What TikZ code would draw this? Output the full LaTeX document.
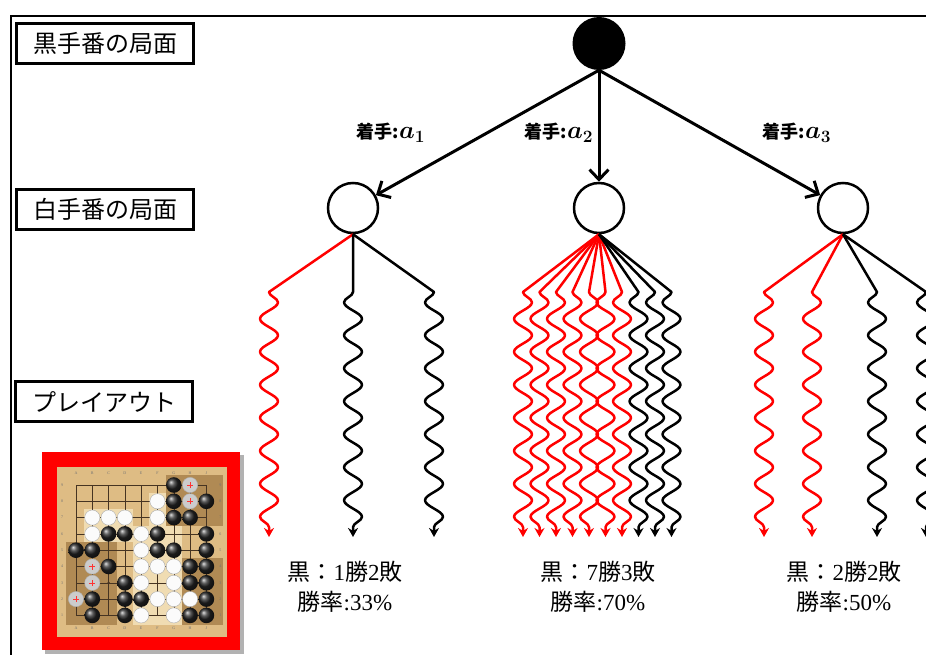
\documentclass[tikz,border=0pt]{standalone}
\usepackage{fontspec}
\setmainfont{Liberation Serif}
\newfontfamily\jp{Noto Sans CJK JP}
\usetikzlibrary{arrows.meta,decorations.pathmorphing}
\definecolor{wood}{RGB}{222,188,132}
\definecolor{woodlight}{RGB}{240,220,178}
\definecolor{wooddark}{RGB}{176,138,84}
\definecolor{gridline}{RGB}{70,52,34}
\newcommand\dg[1]{{\rmfamily #1}}
\newcommand\mv[1]{{\fontsize{24}{24}\selectfont\boldmath$a_{#1}$}}
\tikzset{
  labelbox/.style={draw, line width=3.5pt, minimum width=177pt, minimum height=40pt,
    inner sep=0pt, font=\jp\fontsize{24}{24}\selectfont},
  rootnode/.style={circle, fill=black, minimum size=53pt, inner sep=0pt},
  posnode/.style={circle, draw, line width=2.5pt, fill=white, minimum size=50pt, inner sep=0pt},
  treeedge/.style={line width=3pt, -{Straight Barb[length=10pt,width=19pt]}},
  edgelabel/.style={font=\jp\bfseries\fontsize{18}{18}\selectfont, inner sep=1pt},
  playout/.style={line width=2.5pt, line join=round, -{Stealth[length=9pt,width=10pt]},
    decoration={snake, amplitude=9pt, segment length=33pt, post length=7pt}},
  result/.style={align=center, font=\jp\fontsize{23}{30}\selectfont},
  boardlabel/.style={font=\rmfamily\fontsize{4}{4}\selectfont, text=black!55, inner sep=0pt},
  blackstone/.style={ball color=black!85},
  whitestone/.style={fill=white!97!gray, draw=gray!65, line width=0.4pt},
  deadstone/.style={fill=gray!40!white, draw=gray!60, line width=0.4pt}
}
\begin{document}
\begin{tikzpicture}[x=1pt, y=-1pt]
\useasboundingbox (0,0) rectangle (926,655);
\clip (0,0) rectangle (926,655);

% outer frame
\draw[line width=2pt] (11,670) -- (11,16) -- (940,16);

% row captions
\node[labelbox] (capB) at (105,43.5) {黒手番の局面};
\node[labelbox] (capW) at (105,209.5) {白手番の局面};
\node[labelbox] (capP) at (104,401.5) {プレイアウト};

% tree
\node[rootnode] (root) at (599,43.5) {};
\node[posnode] (w1) at (353,208) {};
\node[posnode] (w2) at (599,208) {};
\node[posnode] (w3) at (843,208) {};

\draw[treeedge] (root.south) -- (w1);
\draw[treeedge] (root.south) -- (w2);
\draw[treeedge] (root.south) -- (w3);

\node[edgelabel] (m1) at (391,133) {着手:\mv{1}};
\node[edgelabel] (m2) at (559,133) {着手:\mv{2}};
\node[edgelabel] (m3) at (797,133) {着手:\mv{3}};

% playouts
\foreach \src/\nm/\x/\col/\mir in {
  w1/pa/269/red/false, w1/pb/353/black/true, w1/pc/434/black/true,
  w2/qa/523/red/false, w2/qb/539.5/red/false, w2/qc/556/red/false,
  w2/qd/572.5/red/false, w2/qe/589/red/false, w2/qf/605.5/red/true,
  w2/qg/622/red/true, w2/qh/638.5/black/true, w2/qi/655/black/true,
  w2/qj/671.5/black/true,
  w3/ra/764/red/false, w3/rb/812/red/false, w3/rc/877/black/true,
  w3/rd/926/black/true} {
  \coordinate (\nm s) at (\x,292);
  \coordinate (\nm e) at (\x,537);
  \draw[playout, color=\col, decoration={mirror=\mir}]
    (\src.south) -- (\nm s) decorate {-- (\nm e)};
}

% results
\node[result] (res1) at (345,587) {黒：\dg{1}勝\dg{2}敗\\勝率\dg{:33\%}};
\node[result] (res2) at (598,587) {黒：\dg{7}勝\dg{3}敗\\勝率\dg{:70\%}};
\node[result] (res3) at (844,587) {黒：\dg{2}勝\dg{2}敗\\勝率\dg{:50\%}};

% board picture
\fill[black!30] (45,455) rectangle (244,654);
\fill[red] (42,452) rectangle (240,650);
\fill[wood] (57,467) rectangle (227,637);
\begin{scope}[shift={(76,615.4)}, x=16.3pt, y=16.3pt]
  % territory shading
  \fill[wooddark] (5.5,5.5) rectangle (9.0,8.6);
  \fill[wooddark] (-0.6,-0.6) rectangle (2.5,4.5);
  \fill[wooddark] (6.5,-0.6) rectangle (9.0,3.5);
  \fill[woodlight] (0.5,4.5) rectangle (3.5,6.5);
  \fill[woodlight] (3.5,-0.6) rectangle (6.5,5.5);
  \fill[woodlight] (4.5,5.5) rectangle (5.5,7.5);
  % grid
  \foreach \i in {0,...,8} {
    \draw[gridline, line width=0.45pt] (\i,0) -- (\i,8);
    \draw[gridline, line width=0.45pt] (0,\i) -- (8,\i);
  }
  \foreach \p in {(2,2),(6,2),(2,6),(6,6),(4,4)}
    \fill[gridline] \p circle (1.3pt);
  % coordinates
  \foreach \l [count=\i from 0] in {A,B,C,D,E,F,G,H,J} {
    \node[boardlabel] at (\i,8.75) {\l};
    \node[boardlabel] at (\i,-0.8) {\l};
  }
  \foreach \n in {1,...,9} {
    \node[boardlabel] at (-0.85,\n-1) {\n};
    \node[boardlabel] at (8.85,\n-1) {\n};
  }
  % stones
  \foreach \c/\r in {6/8, 6/7, 8/7, 6/6, 7/6, 2/5, 3/5, 5/5, 8/5, 0/4, 1/4, 5/4,
      6/4, 8/4, 2/3, 7/3, 8/3, 3/2, 7/2, 8/2, 1/1, 3/1, 4/1, 8/1, 1/0, 3/0, 7/0, 8/0}
    \shade[blackstone] (\c,\r) circle (7.8pt);
  \foreach \c/\r in {5/7, 1/6, 2/6, 3/6, 5/6, 1/5, 4/5, 4/4, 4/3, 5/3, 6/3, 4/2,
      6/2, 5/1, 6/1, 7/1, 4/0, 6/0}
    \filldraw[whitestone] (\c,\r) circle (7.6pt);
  \foreach \c/\r in {7/8, 7/7, 1/3, 1/2, 0/1} {
    \filldraw[deadstone] (\c,\r) circle (7.6pt);
    \draw[red!80, line width=0.5pt] ([xshift=-3pt]\c,\r) -- ([xshift=3pt]\c,\r)
      ([yshift=-3pt]\c,\r) -- ([yshift=3pt]\c,\r);
  }
\end{scope}
\end{tikzpicture}
\end{document}
